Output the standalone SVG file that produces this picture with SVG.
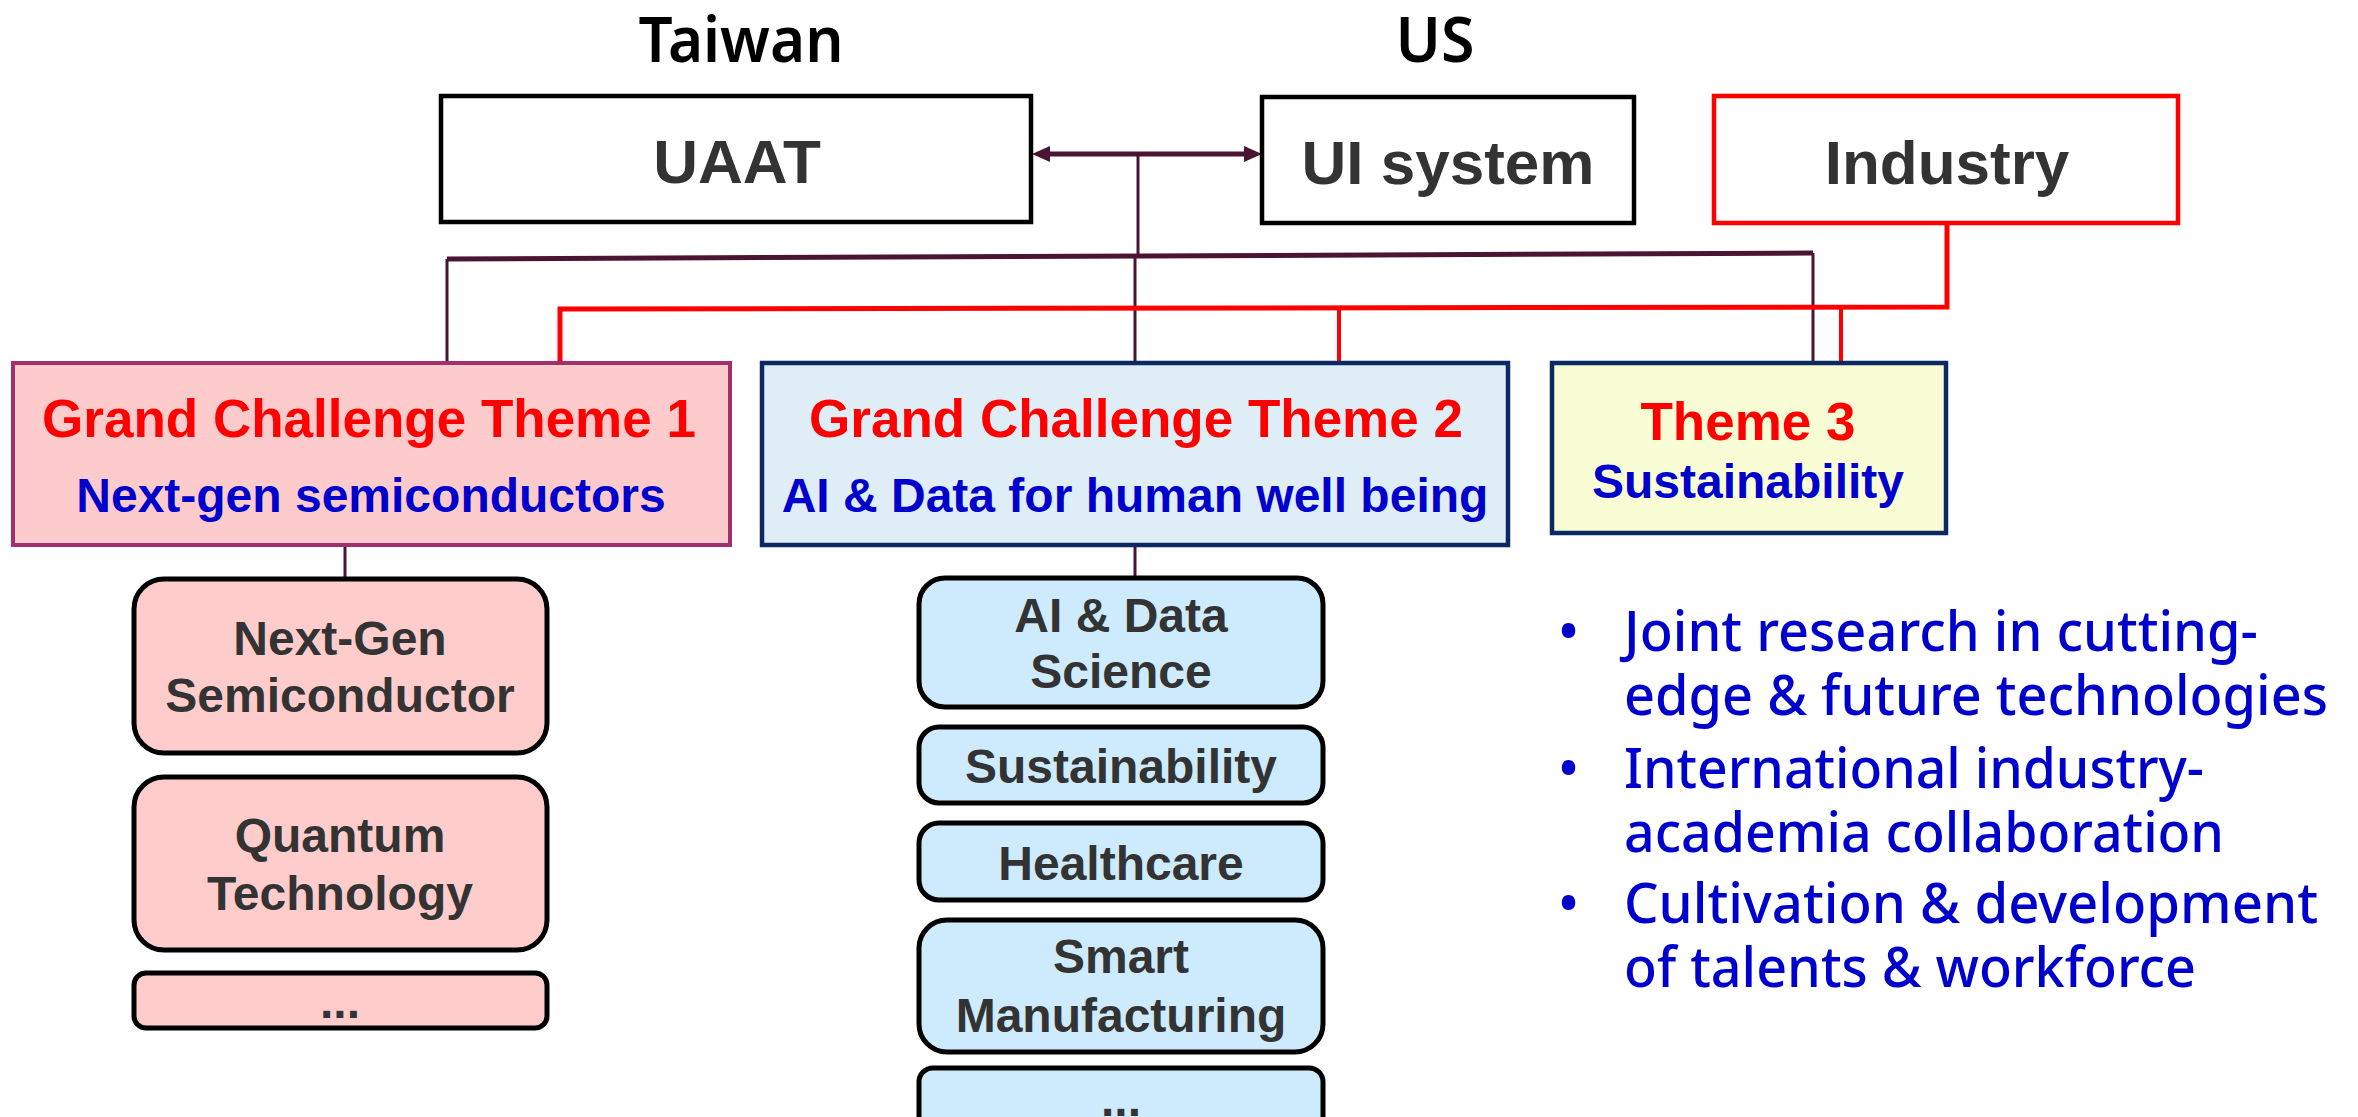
<svg xmlns="http://www.w3.org/2000/svg" width="2358" height="1117" viewBox="0 0 2358 1117">
<style>
.bg{fill:#ffffff}
.top{fill:#ffffff;stroke:#000000;stroke-width:4.5}
.ind{fill:#ffffff;stroke:#ff0000;stroke-width:4.5}
.t1{fill:#fdcbcb;stroke:#a0306e;stroke-width:4}
.t2{fill:#dfeef6;stroke:#0b2862;stroke-width:4.5}
.t3{fill:#f8fdd6;stroke:#0b2862;stroke-width:4.5}
.sp{fill:#ffcccc;stroke:#000000;stroke-width:5}
.sb{fill:#cdebfd;stroke:#000000;stroke-width:5}
.arial{font-family:"Liberation Sans",Arial,sans-serif;font-weight:bold;text-anchor:middle}
.big{font-size:62px;fill:#333333}
.ttl{font-size:53px;fill:#ff0000}
.sub{font-size:48px;fill:#0000cc}
.itm{font-size:48px;fill:#333333}
.hdr{font-family:"Noto Sans","Open Sans",sans-serif;font-size:64px;fill:#000000;text-anchor:middle;font-weight:600}
.bul{font-family:"Noto Sans","Open Sans",sans-serif;font-size:56px;fill:#0000cc;font-weight:500}
.mw{fill:none;stroke:#4b1433;stroke-width:5}
.mt{fill:none;stroke:#4b1433;stroke-width:3}
.rw{fill:none;stroke:#ff0000;stroke-width:5}
.rt{fill:none;stroke:#ff0000;stroke-width:4}
</style>
<defs>
<marker id="ah" viewBox="0 0 18 16" markerWidth="18" markerHeight="16" refX="4" refY="8" orient="auto-start-reverse" markerUnits="userSpaceOnUse">
<path d="M0,0 L18,8 L0,16 z" fill="#4b1433"/>
</marker>
</defs>
<rect class="bg" x="0" y="0" width="2358" height="1117"/>

<g id="label-taiwan"><text class="hdr" x="741" y="62" textLength="205" lengthAdjust="spacingAndGlyphs">Taiwan</text></g>
<g id="label-us"><text class="hdr" x="1435" y="62" textLength="79" lengthAdjust="spacingAndGlyphs">US</text></g>

<g id="connectors">
<path class="mw" d="M1046,154 H1248" marker-start="url(#ah)" marker-end="url(#ah)"/>
<path class="mt" d="M1138,154 V257"/>
<path class="mw" d="M447,259 L1813,253"/>
<path class="mt" d="M447,259 V362"/>
<path class="mt" d="M1135,258 V362"/>
<path class="mt" d="M1813,253 V362"/>
<path class="rw" d="M1947,223 V307 L560,309 V362"/>
<path class="rt" d="M1339,308 V362"/>
<path class="rt" d="M1841,307 V362"/>
<path class="mt" d="M345,545 V579" stroke-width="2.5"/>
<path class="mt" d="M1135,545 V578" stroke-width="2.5"/>
</g>

<g id="node-uaat">
<rect class="top" x="441" y="96" width="590" height="126"/>
<text class="arial big" x="737" y="183">UAAT</text>
</g>
<g id="node-ui-system">
<rect class="top" x="1262" y="97" width="372" height="126"/>
<text class="arial big" x="1448" y="184">UI system</text>
</g>
<g id="node-industry">
<rect class="ind" x="1714" y="96" width="464" height="127"/>
<text class="arial big" x="1947" y="184">Industry</text>
</g>

<g id="node-theme1">
<rect class="t1" x="13" y="363" width="717" height="182"/>
<text class="arial ttl" x="369" y="437">Grand Challenge Theme 1</text>
<text class="arial sub" x="371" y="512">Next-gen semiconductors</text>
</g>
<g id="node-theme2">
<rect class="t2" x="762" y="363" width="746" height="182"/>
<text class="arial ttl" x="1136" y="437">Grand Challenge Theme 2</text>
<text class="arial sub" x="1135" y="512">AI &amp; Data for human well being</text>
</g>
<g id="node-theme3">
<rect class="t3" x="1552" y="363" width="394" height="170"/>
<text class="arial ttl" x="1748" y="440">Theme 3</text>
<text class="arial sub" x="1748" y="498">Sustainability</text>
</g>

<g id="node-next-gen-semiconductor">
<rect class="sp" x="134" y="579" width="413" height="174" rx="30"/>
<text class="arial itm" x="340" y="655">Next-Gen</text>
<text class="arial itm" x="340" y="712">Semiconductor</text>
</g>
<g id="node-quantum-technology">
<rect class="sp" x="134" y="777" width="413" height="173" rx="30"/>
<text class="arial itm" x="340" y="852">Quantum</text>
<text class="arial itm" x="340" y="910">Technology</text>
</g>
<g id="node-theme1-more">
<rect class="sp" x="134" y="973" width="413" height="55" rx="12"/>
<text class="arial itm" x="340" y="1018">...</text>
</g>

<g id="node-ai-data-science">
<rect class="sb" x="919" y="578" width="404" height="129" rx="26"/>
<text class="arial itm" x="1121" y="632">AI &amp; Data</text>
<text class="arial itm" x="1121" y="688">Science</text>
</g>
<g id="node-sustainability">
<rect class="sb" x="919" y="727" width="404" height="76" rx="20"/>
<text class="arial itm" x="1121" y="783">Sustainability</text>
</g>
<g id="node-healthcare">
<rect class="sb" x="919" y="823" width="404" height="77" rx="20"/>
<text class="arial itm" x="1121" y="880">Healthcare</text>
</g>
<g id="node-smart-manufacturing">
<rect class="sb" x="919" y="920" width="404" height="132" rx="28"/>
<text class="arial itm" x="1121" y="973">Smart</text>
<text class="arial itm" x="1121" y="1032">Manufacturing</text>
</g>
<g id="node-theme2-more">
<rect class="sb" x="919" y="1068" width="404" height="80" rx="14"/>
<text class="arial itm" x="1121" y="1116">...</text>
</g>

<g id="bullets">
<text class="bul" x="1558" y="651">•</text>
<text class="bul" x="1624" y="651" textLength="634" lengthAdjust="spacingAndGlyphs">Joint research in cutting-</text>
<text class="bul" x="1624" y="715" textLength="704" lengthAdjust="spacingAndGlyphs">edge &amp; future technologies</text>
<text class="bul" x="1558" y="788">•</text>
<text class="bul" x="1624" y="788" textLength="580" lengthAdjust="spacingAndGlyphs">International industry-</text>
<text class="bul" x="1624" y="852" textLength="600" lengthAdjust="spacingAndGlyphs">academia collaboration</text>
<text class="bul" x="1558" y="923">•</text>
<text class="bul" x="1624" y="923" textLength="694" lengthAdjust="spacingAndGlyphs">Cultivation &amp; development</text>
<text class="bul" x="1624" y="987" textLength="572" lengthAdjust="spacingAndGlyphs">of talents &amp; workforce</text>
</g>
</svg>
